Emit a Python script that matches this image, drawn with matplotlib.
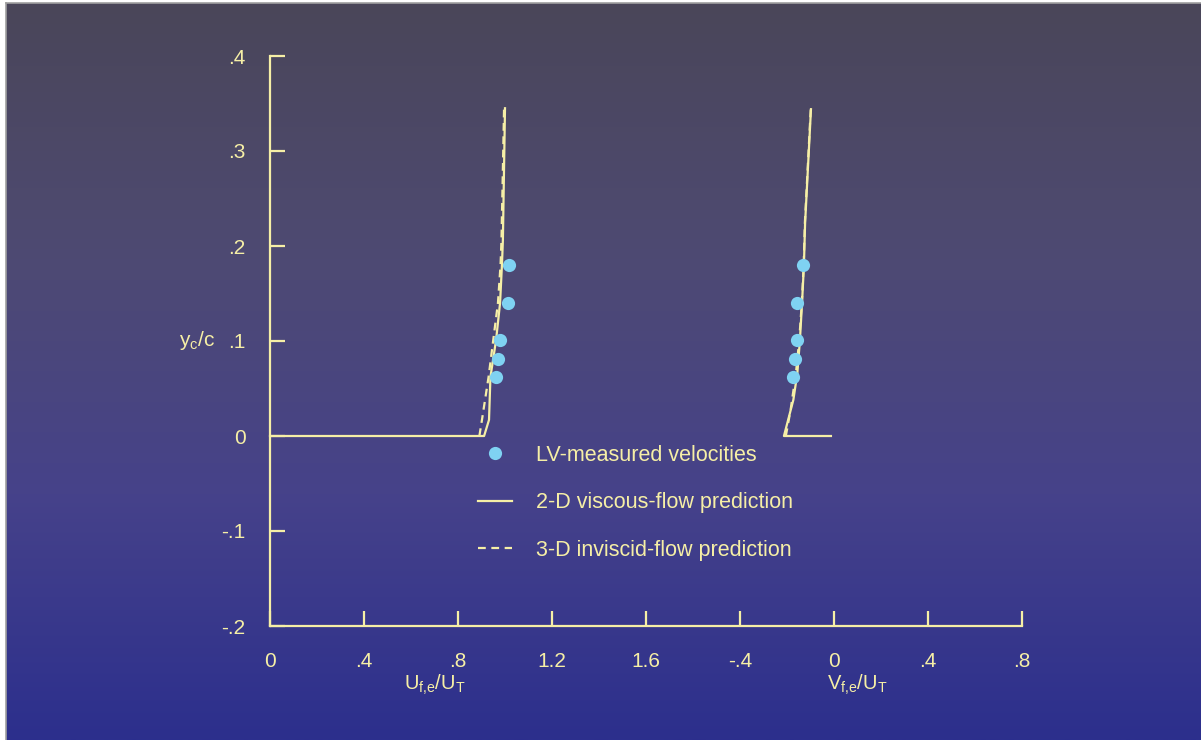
import numpy as np
import matplotlib
matplotlib.use("Agg")
import matplotlib.pyplot as plt
from matplotlib.lines import Line2D
from matplotlib.colors import LinearSegmentedColormap

plt.rcParams['font.family'] = ['Liberation Sans', 'DejaVu Sans']
plt.rcParams['mathtext.fontset'] = 'custom'
plt.rcParams['mathtext.rm'] = 'Liberation Sans'

# --- data ---
# U component (axis 0..1.6)
u_visc_y = [0.0, 0.0, 0.017, 0.062, 0.101, 0.140, 0.180, 0.206, 0.345]
u_visc_x = [0.0, 0.911, 0.932, 0.938, 0.962, 0.979, 0.987, 0.991, 1.000]
u_inv_y = [0.0, 0.017, 0.062, 0.101, 0.140, 0.180, 0.206, 0.345]
u_inv_x = [0.891, 0.902, 0.930, 0.950, 0.970, 0.981, 0.985, 0.996]
u_meas_y = [0.180, 0.140, 0.101, 0.081, 0.062]
u_meas_x = [1.017, 1.013, 0.979, 0.970, 0.962]

# V component (its own scale, 0 sits at 2.4 on the shared axis)
v_visc_y = [0.0, 0.0, 0.038, 0.066, 0.101, 0.140, 0.180, 0.224, 0.344]
v_visc_x = [-0.013, -0.213, -0.173, -0.156, -0.145, -0.136, -0.128, -0.123, -0.098]
v_inv_y = [0.0, 0.027, 0.066, 0.101, 0.140, 0.180, 0.224, 0.344]
v_inv_x = [-0.205, -0.185, -0.162, -0.148, -0.137, -0.129, -0.124, -0.099]
v_meas_y = [0.180, 0.140, 0.101, 0.081, 0.062]
v_meas_x = [-0.132, -0.157, -0.157, -0.166, -0.174]
v_origin = 2.4

x_ticks = [0, 0.4, 0.8, 1.2, 1.6, 2.0, 2.4, 2.8, 3.2]
x_ticklabels = ['0', '.4', '.8', '1.2', '1.6', '-.4', '0', '.4', '.8']
y_ticks = [-0.2, -0.1, 0, 0.1, 0.2, 0.3, 0.4]
y_ticklabels = ['-.2', '-.1', '0', '.1', '.2', '.3', '.4']

W, H = 1201, 740
fig = plt.figure(figsize=(W / 100, H / 100), dpi=100, facecolor='white')

# gradient background
bg = fig.add_axes([6 / W, 0, (W - 6) / W, (H - 3) / H])
cmap = LinearSegmentedColormap.from_list('bg', ['#4a4659', '#4e4a72', '#46428a', '#2c2f8d'])
bg.imshow(np.linspace(0, 1, 256).reshape(-1, 1), aspect='auto', cmap=cmap,
          extent=[0, 1, 0, 1], origin='upper')
bg.set_xticks([]); bg.set_yticks([])
for s in bg.spines.values():
    s.set_color('#a0a0a0'); s.set_linewidth(1.2)
bg.spines['right'].set_visible(False)
bg.spines['bottom'].set_visible(False)

fg = '#f6efa6'
blue = '#7fd2f2'

x0, x1 = 270, 1022
y0, y1 = 626, 56
ax = fig.add_axes([x0 / W, 1 - y0 / H, (x1 - x0) / W, (y0 - y1) / H])
ax.set_facecolor('none')
ax.set_xlim(0, 3.2)
ax.set_ylim(-0.2, 0.4)

lw = 1.6
dash = (0, (3.5, 2.5))
ax.plot(u_visc_x, u_visc_y, color=fg, lw=lw, clip_on=False)
ax.plot(u_inv_x, u_inv_y, color=fg, lw=lw, ls=dash, clip_on=False)
ax.plot(u_meas_x, u_meas_y, 'o', color=blue, ms=9.5, mew=0)
ax.plot(np.array(v_visc_x) + v_origin, v_visc_y, color=fg, lw=lw, clip_on=False)
ax.plot(np.array(v_inv_x) + v_origin, v_inv_y, color=fg, lw=lw, ls=dash, clip_on=False)
ax.plot(np.array(v_meas_x) + v_origin, v_meas_y, 'o', color=blue, ms=9.5, mew=0)

for s in ['top', 'right']:
    ax.spines[s].set_visible(False)
for s in ['left', 'bottom']:
    ax.spines[s].set_color(fg)
    ax.spines[s].set_linewidth(1.6)

ax.set_xticks(x_ticks)
ax.set_xticklabels(x_ticklabels)
ax.set_yticks(y_ticks)
ax.set_yticklabels(y_ticklabels)
ax.tick_params(axis='both', direction='in', length=11, width=1.6, color=fg,
               labelcolor=fg, labelsize=15)
ax.tick_params(axis='x', pad=19)
ax.tick_params(axis='y', pad=17.5)

ax.text(0.70, -0.262, r'U$_\mathregular{f{,}e}$/U$_\mathregular{T}$', color=fg,
        fontsize=14.5, ha='center', va='center')
ax.text(2.50, -0.262, r'V$_\mathregular{f{,}e}$/U$_\mathregular{T}$', color=fg,
        fontsize=14.5, ha='center', va='center')
ax.text(-0.234, 0.1, r'y$_\mathregular{c}$/c', color=fg, fontsize=15,
        ha='right', va='center')

handles = [
    Line2D([], [], marker='o', ls='none', color=blue, ms=9.5, mew=0),
    Line2D([], [], color=fg, lw=lw),
    Line2D([], [], color=fg, lw=lw, ls=dash),
]
labels = ['LV-measured velocities', '2-D viscous-flow prediction',
          '3-D inviscid-flow prediction']
leg = ax.legend(handles, labels, loc='upper left', frameon=False,
                bbox_to_anchor=((478 - x0) / (x1 - x0), (y0 - 445) / (y0 - y1)),
                borderpad=0, borderaxespad=0, handlelength=1.59,
                handletextpad=1.12, labelspacing=1.22, fontsize=15.5)
for t in leg.get_texts():
    t.set_color(fg)

fig.savefig('out.png', dpi=100, facecolor='white')
